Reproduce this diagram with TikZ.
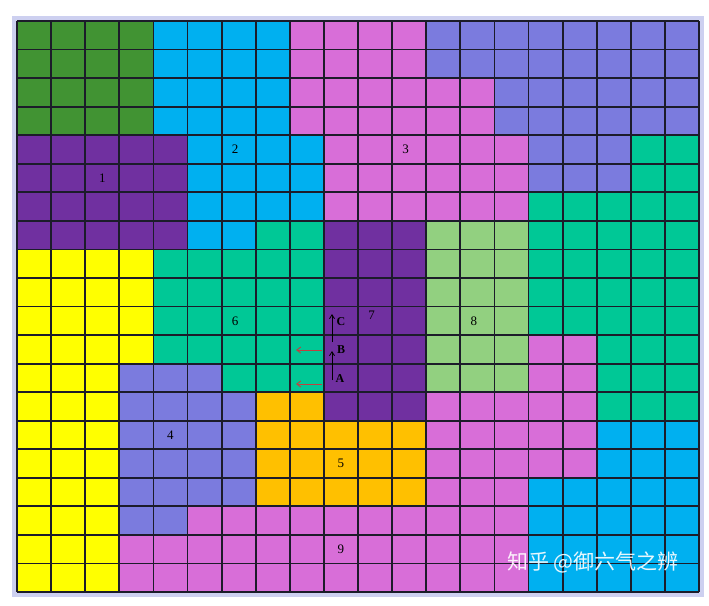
\documentclass[tikz,border=0pt]{standalone}
\usepackage{fontspec}
\setmainfont{Liberation Serif}
\newfontfamily\cjk{Noto Sans CJK SC}
\usepackage{xcolor}
\usepackage{tikz}
\usetikzlibrary{arrows.meta}

\definecolor{cgreen}{HTML}{419333}
\definecolor{cblue}{HTML}{00B0F0}
\definecolor{cpink}{HTML}{D86ED8}
\definecolor{cperi}{HTML}{7B7BDE}
\definecolor{cpurple}{HTML}{7030A0}
\definecolor{cteal}{HTML}{00C896}
\definecolor{cyellow}{HTML}{FFFF00}
\definecolor{corange}{HTML}{FFC000}
\definecolor{clgreen}{HTML}{92D080}
\definecolor{cgrid}{HTML}{1C1C2A}
\definecolor{cframe}{HTML}{CDD0F0}
\definecolor{carrow}{HTML}{C04040}

\begin{document}
\begin{tikzpicture}[
    x=1pt, y=-1pt,
    num/.style={font=\fontsize{13}{13}\selectfont, inner sep=0pt},
    letter/.style={font=\fontsize{12}{12}\selectfont\bfseries, inner sep=0pt},
    moveup/.style={-{Straight Barb[length=4pt,width=5pt]}, line width=0.8pt, black},
    moveleft/.style={-{Straight Barb[length=4pt,width=6pt]}, line width=0.9pt, carrow},
]
\useasboundingbox (0,0) rectangle (709,605);
\fill[white] (0,0) rectangle (709,605);
\draw[cframe, line width=5pt] (14.5,18.5) rectangle (701.5,594.5);

\begin{scope}[shift={(17,21)}, x=34.1pt, y=-28.55pt]
% regions, as col0/row0/col1/row1
\foreach \a/\b/\c/\d in {0/0/4/4} \fill[cgreen] (\a,\b) rectangle (\c,\d);
\foreach \a/\b/\c/\d in {4/0/8/4, 5/4/9/7, 5/7/7/8, 17/14/20/16, 15/16/20/20}
    \fill[cblue] (\a,\b) rectangle (\c,\d);
\foreach \a/\b/\c/\d in {8/0/12/2, 8/2/14/4, 9/4/15/7, 15/11/17/13, 12/13/17/16, 12/16/15/17, 5/17/15/18, 3/18/15/20}
    \fill[cpink] (\a,\b) rectangle (\c,\d);
\foreach \a/\b/\c/\d in {12/0/20/2, 14/2/20/4, 15/4/18/6, 3/12/6/13, 3/13/7/17, 3/17/5/18}
    \fill[cperi] (\a,\b) rectangle (\c,\d);
\foreach \a/\b/\c/\d in {18/4/20/6, 15/6/20/11, 17/11/20/14, 7/7/9/8, 4/8/9/12, 6/12/9/13}
    \fill[cteal] (\a,\b) rectangle (\c,\d);
\foreach \a/\b/\c/\d in {0/4/5/8, 9/7/12/14} \fill[cpurple] (\a,\b) rectangle (\c,\d);
\foreach \a/\b/\c/\d in {12/7/15/13} \fill[clgreen] (\a,\b) rectangle (\c,\d);
\foreach \a/\b/\c/\d in {0/8/4/12, 0/12/3/20} \fill[cyellow] (\a,\b) rectangle (\c,\d);
\foreach \a/\b/\c/\d in {7/13/9/17, 9/14/12/17} \fill[corange] (\a,\b) rectangle (\c,\d);

% grid
\foreach \i in {0,...,20} {
    \draw[cgrid, line width=1.8pt] (\i,0) -- (\i,20);
    \draw[cgrid, line width=1.8pt] (0,\i) -- (20,\i);
}

% region numbers
\node[num] (n1) at (2.5,5.5) {1};
\node[num] (n2) at (6.4,4.5) {2};
\node[num] (n3) at (11.4,4.5) {3};
\node[num] (n4) at (4.5,14.5) {4};
\node[num] (n5) at (9.5,15.5) {5};
\node[num] (n6) at (6.4,10.5) {6};
\node[num] (n7) at (10.4,10.3) {7};
\node[num] (n8) at (13.4,10.5) {8};
\node[num] (n9) at (9.5,18.5) {9};
\end{scope}

% moves
\node[letter] (lA) at (340,379) {A};
\node[letter] (lB) at (341,350) {B};
\node[letter] (lC) at (341,322) {C};
\coordinate (pA) at (332,380);
\coordinate (pB1) at (332,351);
\coordinate (pB2) at (332,342);
\coordinate (pC) at (332,314);
\coordinate (rB) at (322,350);
\coordinate (rBl) at (296,350);
\coordinate (rA) at (322,384);
\coordinate (rAl) at (296,384);
\draw[moveup] (pA) -- (pB1);
\draw[moveup] (pB2) -- (pC);
\draw[moveleft] (rB) -- (rBl);
\draw[moveleft] (rA) -- (rAl);

\node[white, opacity=0.9, font=\cjk\fontsize{21}{21}\selectfont, inner sep=0pt] (mark) at (593,562) {知乎 @御六气之辨};
\end{tikzpicture}
\end{document}
